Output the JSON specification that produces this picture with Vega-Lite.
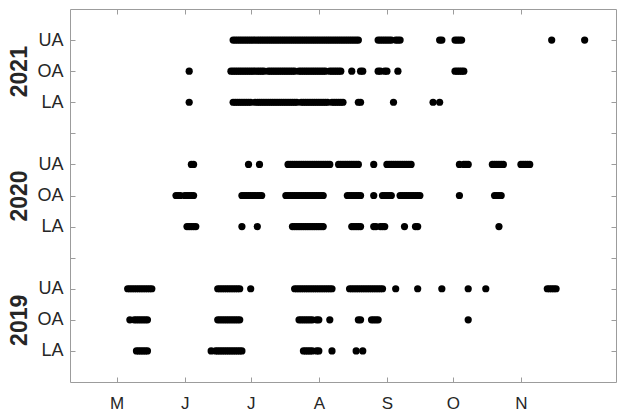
{
"$schema": "https://vega.github.io/schema/vega-lite/v6.json",
"width": 546, "height": 373,
"autosize": {"type": "none"},
"padding": {"left": 70, "top": 9, "right": 1, "bottom": 30},
"background": "white",
"config": {
 "view": {"stroke": "#9c9c9c", "strokeWidth": 1},
 "axis": {"labelFont": "Liberation Sans", "labelColor": "#262626", "tickColor": "#9c9c9c", "domain": false, "grid": false, "title": null}
},
"data": {"values": [
{"row":"2021 UA","date":"2021-06-23"},{"row":"2021 UA","date":"2021-06-24"},{"row":"2021 UA","date":"2021-06-25"},{"row":"2021 UA","date":"2021-06-26"},{"row":"2021 UA","date":"2021-06-27"},{"row":"2021 UA","date":"2021-06-28"},{"row":"2021 UA","date":"2021-06-29"},{"row":"2021 UA","date":"2021-06-30"},
{"row":"2021 UA","date":"2021-07-01"},{"row":"2021 UA","date":"2021-07-02"},{"row":"2021 UA","date":"2021-07-03"},{"row":"2021 UA","date":"2021-07-04"},{"row":"2021 UA","date":"2021-07-05"},{"row":"2021 UA","date":"2021-07-06"},{"row":"2021 UA","date":"2021-07-07"},{"row":"2021 UA","date":"2021-07-08"},{"row":"2021 UA","date":"2021-07-09"},{"row":"2021 UA","date":"2021-07-10"},{"row":"2021 UA","date":"2021-07-11"},{"row":"2021 UA","date":"2021-07-12"},{"row":"2021 UA","date":"2021-07-13"},{"row":"2021 UA","date":"2021-07-14"},{"row":"2021 UA","date":"2021-07-15"},{"row":"2021 UA","date":"2021-07-16"},{"row":"2021 UA","date":"2021-07-17"},{"row":"2021 UA","date":"2021-07-18"},{"row":"2021 UA","date":"2021-07-19"},{"row":"2021 UA","date":"2021-07-20"},{"row":"2021 UA","date":"2021-07-21"},{"row":"2021 UA","date":"2021-07-22"},{"row":"2021 UA","date":"2021-07-23"},{"row":"2021 UA","date":"2021-07-24"},{"row":"2021 UA","date":"2021-07-25"},{"row":"2021 UA","date":"2021-07-26"},{"row":"2021 UA","date":"2021-07-27"},{"row":"2021 UA","date":"2021-07-28"},{"row":"2021 UA","date":"2021-07-29"},{"row":"2021 UA","date":"2021-07-30"},{"row":"2021 UA","date":"2021-07-31"},
{"row":"2021 UA","date":"2021-08-01"},{"row":"2021 UA","date":"2021-08-02"},{"row":"2021 UA","date":"2021-08-03"},{"row":"2021 UA","date":"2021-08-04"},{"row":"2021 UA","date":"2021-08-05"},{"row":"2021 UA","date":"2021-08-06"},{"row":"2021 UA","date":"2021-08-07"},{"row":"2021 UA","date":"2021-08-08"},{"row":"2021 UA","date":"2021-08-09"},{"row":"2021 UA","date":"2021-08-10"},{"row":"2021 UA","date":"2021-08-11"},{"row":"2021 UA","date":"2021-08-12"},{"row":"2021 UA","date":"2021-08-13"},{"row":"2021 UA","date":"2021-08-14"},{"row":"2021 UA","date":"2021-08-15"},{"row":"2021 UA","date":"2021-08-16"},{"row":"2021 UA","date":"2021-08-17"},{"row":"2021 UA","date":"2021-08-18"},{"row":"2021 UA","date":"2021-08-19"},
{"row":"2021 UA","date":"2021-08-28"},{"row":"2021 UA","date":"2021-08-29"},{"row":"2021 UA","date":"2021-08-30"},{"row":"2021 UA","date":"2021-08-31"},{"row":"2021 UA","date":"2021-09-01"},{"row":"2021 UA","date":"2021-09-02"},{"row":"2021 UA","date":"2021-09-03"},{"row":"2021 UA","date":"2021-09-05"},{"row":"2021 UA","date":"2021-09-06"},{"row":"2021 UA","date":"2021-09-07"},{"row":"2021 UA","date":"2021-09-25"},{"row":"2021 UA","date":"2021-09-26"},{"row":"2021 UA","date":"2021-10-02"},{"row":"2021 UA","date":"2021-10-03"},{"row":"2021 UA","date":"2021-10-04"},{"row":"2021 UA","date":"2021-10-05"},{"row":"2021 UA","date":"2021-11-15"},{"row":"2021 UA","date":"2021-11-30"},

{"row":"2021 OA","date":"2021-06-03"},
{"row":"2021 OA","date":"2021-06-22"},{"row":"2021 OA","date":"2021-06-23"},{"row":"2021 OA","date":"2021-06-24"},{"row":"2021 OA","date":"2021-06-25"},{"row":"2021 OA","date":"2021-06-26"},{"row":"2021 OA","date":"2021-06-27"},{"row":"2021 OA","date":"2021-06-28"},{"row":"2021 OA","date":"2021-06-29"},{"row":"2021 OA","date":"2021-06-30"},
{"row":"2021 OA","date":"2021-07-01"},{"row":"2021 OA","date":"2021-07-02"},{"row":"2021 OA","date":"2021-07-03"},{"row":"2021 OA","date":"2021-07-04"},{"row":"2021 OA","date":"2021-07-05"},{"row":"2021 OA","date":"2021-07-06"},{"row":"2021 OA","date":"2021-07-07"},
{"row":"2021 OA","date":"2021-07-09"},{"row":"2021 OA","date":"2021-07-10"},{"row":"2021 OA","date":"2021-07-11"},{"row":"2021 OA","date":"2021-07-12"},{"row":"2021 OA","date":"2021-07-13"},{"row":"2021 OA","date":"2021-07-14"},{"row":"2021 OA","date":"2021-07-15"},{"row":"2021 OA","date":"2021-07-16"},{"row":"2021 OA","date":"2021-07-17"},{"row":"2021 OA","date":"2021-07-18"},{"row":"2021 OA","date":"2021-07-19"},{"row":"2021 OA","date":"2021-07-20"},{"row":"2021 OA","date":"2021-07-21"},
{"row":"2021 OA","date":"2021-07-23"},{"row":"2021 OA","date":"2021-07-24"},{"row":"2021 OA","date":"2021-07-25"},{"row":"2021 OA","date":"2021-07-26"},{"row":"2021 OA","date":"2021-07-27"},{"row":"2021 OA","date":"2021-07-28"},{"row":"2021 OA","date":"2021-07-29"},{"row":"2021 OA","date":"2021-07-30"},{"row":"2021 OA","date":"2021-07-31"},
{"row":"2021 OA","date":"2021-08-01"},{"row":"2021 OA","date":"2021-08-02"},{"row":"2021 OA","date":"2021-08-03"},{"row":"2021 OA","date":"2021-08-04"},
{"row":"2021 OA","date":"2021-08-06"},{"row":"2021 OA","date":"2021-08-07"},{"row":"2021 OA","date":"2021-08-08"},{"row":"2021 OA","date":"2021-08-09"},{"row":"2021 OA","date":"2021-08-10"},{"row":"2021 OA","date":"2021-08-11"},
{"row":"2021 OA","date":"2021-08-16"},{"row":"2021 OA","date":"2021-08-20"},{"row":"2021 OA","date":"2021-08-21"},{"row":"2021 OA","date":"2021-08-28"},{"row":"2021 OA","date":"2021-08-29"},{"row":"2021 OA","date":"2021-08-31"},{"row":"2021 OA","date":"2021-09-01"},{"row":"2021 OA","date":"2021-09-06"},
{"row":"2021 OA","date":"2021-10-02"},{"row":"2021 OA","date":"2021-10-03"},{"row":"2021 OA","date":"2021-10-04"},{"row":"2021 OA","date":"2021-10-05"},{"row":"2021 OA","date":"2021-10-06"},

{"row":"2021 LA","date":"2021-06-03"},
{"row":"2021 LA","date":"2021-06-23"},{"row":"2021 LA","date":"2021-06-24"},{"row":"2021 LA","date":"2021-06-25"},{"row":"2021 LA","date":"2021-06-26"},{"row":"2021 LA","date":"2021-06-27"},{"row":"2021 LA","date":"2021-06-28"},{"row":"2021 LA","date":"2021-06-29"},{"row":"2021 LA","date":"2021-06-30"},{"row":"2021 LA","date":"2021-07-01"},
{"row":"2021 LA","date":"2021-07-03"},{"row":"2021 LA","date":"2021-07-04"},{"row":"2021 LA","date":"2021-07-05"},{"row":"2021 LA","date":"2021-07-06"},{"row":"2021 LA","date":"2021-07-07"},{"row":"2021 LA","date":"2021-07-08"},{"row":"2021 LA","date":"2021-07-09"},{"row":"2021 LA","date":"2021-07-10"},{"row":"2021 LA","date":"2021-07-11"},{"row":"2021 LA","date":"2021-07-12"},{"row":"2021 LA","date":"2021-07-13"},{"row":"2021 LA","date":"2021-07-14"},{"row":"2021 LA","date":"2021-07-15"},{"row":"2021 LA","date":"2021-07-16"},{"row":"2021 LA","date":"2021-07-17"},{"row":"2021 LA","date":"2021-07-18"},{"row":"2021 LA","date":"2021-07-19"},{"row":"2021 LA","date":"2021-07-20"},{"row":"2021 LA","date":"2021-07-21"},{"row":"2021 LA","date":"2021-07-22"},
{"row":"2021 LA","date":"2021-07-24"},{"row":"2021 LA","date":"2021-07-25"},{"row":"2021 LA","date":"2021-07-26"},{"row":"2021 LA","date":"2021-07-27"},{"row":"2021 LA","date":"2021-07-28"},{"row":"2021 LA","date":"2021-07-29"},{"row":"2021 LA","date":"2021-07-30"},{"row":"2021 LA","date":"2021-07-31"},
{"row":"2021 LA","date":"2021-08-01"},{"row":"2021 LA","date":"2021-08-02"},{"row":"2021 LA","date":"2021-08-03"},{"row":"2021 LA","date":"2021-08-04"},{"row":"2021 LA","date":"2021-08-05"},
{"row":"2021 LA","date":"2021-08-07"},{"row":"2021 LA","date":"2021-08-08"},{"row":"2021 LA","date":"2021-08-09"},{"row":"2021 LA","date":"2021-08-10"},{"row":"2021 LA","date":"2021-08-11"},{"row":"2021 LA","date":"2021-08-12"},
{"row":"2021 LA","date":"2021-08-19"},{"row":"2021 LA","date":"2021-08-20"},{"row":"2021 LA","date":"2021-09-04"},{"row":"2021 LA","date":"2021-09-22"},{"row":"2021 LA","date":"2021-09-25"},

{"row":"2020 UA","date":"2020-06-04"},{"row":"2020 UA","date":"2020-06-05"},{"row":"2020 UA","date":"2020-06-30"},{"row":"2020 UA","date":"2020-07-05"},
{"row":"2020 UA","date":"2020-07-18"},{"row":"2020 UA","date":"2020-07-19"},{"row":"2020 UA","date":"2020-07-20"},{"row":"2020 UA","date":"2020-07-21"},{"row":"2020 UA","date":"2020-07-22"},{"row":"2020 UA","date":"2020-07-23"},{"row":"2020 UA","date":"2020-07-24"},{"row":"2020 UA","date":"2020-07-25"},{"row":"2020 UA","date":"2020-07-26"},{"row":"2020 UA","date":"2020-07-27"},{"row":"2020 UA","date":"2020-07-28"},{"row":"2020 UA","date":"2020-07-29"},{"row":"2020 UA","date":"2020-07-30"},{"row":"2020 UA","date":"2020-07-31"},
{"row":"2020 UA","date":"2020-08-01"},{"row":"2020 UA","date":"2020-08-02"},{"row":"2020 UA","date":"2020-08-03"},{"row":"2020 UA","date":"2020-08-04"},{"row":"2020 UA","date":"2020-08-05"},{"row":"2020 UA","date":"2020-08-06"},
{"row":"2020 UA","date":"2020-08-10"},{"row":"2020 UA","date":"2020-08-11"},{"row":"2020 UA","date":"2020-08-12"},{"row":"2020 UA","date":"2020-08-13"},{"row":"2020 UA","date":"2020-08-14"},{"row":"2020 UA","date":"2020-08-15"},{"row":"2020 UA","date":"2020-08-16"},{"row":"2020 UA","date":"2020-08-17"},{"row":"2020 UA","date":"2020-08-18"},{"row":"2020 UA","date":"2020-08-19"},
{"row":"2020 UA","date":"2020-08-26"},
{"row":"2020 UA","date":"2020-09-01"},{"row":"2020 UA","date":"2020-09-02"},{"row":"2020 UA","date":"2020-09-03"},{"row":"2020 UA","date":"2020-09-04"},{"row":"2020 UA","date":"2020-09-05"},{"row":"2020 UA","date":"2020-09-06"},{"row":"2020 UA","date":"2020-09-07"},{"row":"2020 UA","date":"2020-09-08"},{"row":"2020 UA","date":"2020-09-09"},{"row":"2020 UA","date":"2020-09-10"},{"row":"2020 UA","date":"2020-09-11"},{"row":"2020 UA","date":"2020-09-12"},
{"row":"2020 UA","date":"2020-10-04"},{"row":"2020 UA","date":"2020-10-06"},{"row":"2020 UA","date":"2020-10-07"},{"row":"2020 UA","date":"2020-10-08"},
{"row":"2020 UA","date":"2020-10-19"},{"row":"2020 UA","date":"2020-10-20"},{"row":"2020 UA","date":"2020-10-21"},{"row":"2020 UA","date":"2020-10-22"},{"row":"2020 UA","date":"2020-10-23"},{"row":"2020 UA","date":"2020-10-24"},
{"row":"2020 UA","date":"2020-11-01"},{"row":"2020 UA","date":"2020-11-02"},{"row":"2020 UA","date":"2020-11-03"},{"row":"2020 UA","date":"2020-11-04"},{"row":"2020 UA","date":"2020-11-05"},

{"row":"2020 OA","date":"2020-05-28"},{"row":"2020 OA","date":"2020-05-29"},{"row":"2020 OA","date":"2020-05-30"},{"row":"2020 OA","date":"2020-06-01"},{"row":"2020 OA","date":"2020-06-02"},{"row":"2020 OA","date":"2020-06-03"},{"row":"2020 OA","date":"2020-06-04"},{"row":"2020 OA","date":"2020-06-05"},
{"row":"2020 OA","date":"2020-06-27"},{"row":"2020 OA","date":"2020-06-28"},{"row":"2020 OA","date":"2020-06-29"},{"row":"2020 OA","date":"2020-06-30"},{"row":"2020 OA","date":"2020-07-01"},{"row":"2020 OA","date":"2020-07-02"},{"row":"2020 OA","date":"2020-07-03"},{"row":"2020 OA","date":"2020-07-04"},{"row":"2020 OA","date":"2020-07-05"},{"row":"2020 OA","date":"2020-07-06"},
{"row":"2020 OA","date":"2020-07-17"},{"row":"2020 OA","date":"2020-07-18"},{"row":"2020 OA","date":"2020-07-19"},{"row":"2020 OA","date":"2020-07-20"},{"row":"2020 OA","date":"2020-07-21"},{"row":"2020 OA","date":"2020-07-22"},{"row":"2020 OA","date":"2020-07-23"},{"row":"2020 OA","date":"2020-07-24"},{"row":"2020 OA","date":"2020-07-25"},{"row":"2020 OA","date":"2020-07-26"},{"row":"2020 OA","date":"2020-07-27"},{"row":"2020 OA","date":"2020-07-28"},{"row":"2020 OA","date":"2020-07-29"},{"row":"2020 OA","date":"2020-07-30"},{"row":"2020 OA","date":"2020-07-31"},{"row":"2020 OA","date":"2020-08-01"},{"row":"2020 OA","date":"2020-08-02"},{"row":"2020 OA","date":"2020-08-03"},
{"row":"2020 OA","date":"2020-08-14"},{"row":"2020 OA","date":"2020-08-15"},{"row":"2020 OA","date":"2020-08-16"},{"row":"2020 OA","date":"2020-08-17"},{"row":"2020 OA","date":"2020-08-18"},{"row":"2020 OA","date":"2020-08-19"},{"row":"2020 OA","date":"2020-08-20"},
{"row":"2020 OA","date":"2020-08-26"},{"row":"2020 OA","date":"2020-08-30"},{"row":"2020 OA","date":"2020-08-31"},{"row":"2020 OA","date":"2020-09-01"},{"row":"2020 OA","date":"2020-09-02"},{"row":"2020 OA","date":"2020-09-03"},
{"row":"2020 OA","date":"2020-09-07"},{"row":"2020 OA","date":"2020-09-08"},{"row":"2020 OA","date":"2020-09-09"},{"row":"2020 OA","date":"2020-09-10"},{"row":"2020 OA","date":"2020-09-11"},{"row":"2020 OA","date":"2020-09-12"},{"row":"2020 OA","date":"2020-09-13"},{"row":"2020 OA","date":"2020-09-14"},{"row":"2020 OA","date":"2020-09-15"},{"row":"2020 OA","date":"2020-09-16"},
{"row":"2020 OA","date":"2020-10-04"},{"row":"2020 OA","date":"2020-10-20"},{"row":"2020 OA","date":"2020-10-21"},{"row":"2020 OA","date":"2020-10-22"},{"row":"2020 OA","date":"2020-10-23"},

{"row":"2020 LA","date":"2020-06-02"},{"row":"2020 LA","date":"2020-06-03"},{"row":"2020 LA","date":"2020-06-04"},{"row":"2020 LA","date":"2020-06-05"},{"row":"2020 LA","date":"2020-06-06"},{"row":"2020 LA","date":"2020-06-27"},{"row":"2020 LA","date":"2020-07-04"},
{"row":"2020 LA","date":"2020-07-20"},{"row":"2020 LA","date":"2020-07-21"},{"row":"2020 LA","date":"2020-07-22"},{"row":"2020 LA","date":"2020-07-23"},{"row":"2020 LA","date":"2020-07-24"},{"row":"2020 LA","date":"2020-07-25"},{"row":"2020 LA","date":"2020-07-26"},{"row":"2020 LA","date":"2020-07-27"},{"row":"2020 LA","date":"2020-07-28"},{"row":"2020 LA","date":"2020-07-29"},{"row":"2020 LA","date":"2020-07-30"},{"row":"2020 LA","date":"2020-07-31"},{"row":"2020 LA","date":"2020-08-01"},{"row":"2020 LA","date":"2020-08-02"},{"row":"2020 LA","date":"2020-08-03"},
{"row":"2020 LA","date":"2020-08-16"},{"row":"2020 LA","date":"2020-08-17"},{"row":"2020 LA","date":"2020-08-18"},{"row":"2020 LA","date":"2020-08-19"},{"row":"2020 LA","date":"2020-08-20"},
{"row":"2020 LA","date":"2020-08-26"},{"row":"2020 LA","date":"2020-08-27"},{"row":"2020 LA","date":"2020-08-29"},{"row":"2020 LA","date":"2020-08-30"},{"row":"2020 LA","date":"2020-08-31"},
{"row":"2020 LA","date":"2020-09-09"},{"row":"2020 LA","date":"2020-09-14"},{"row":"2020 LA","date":"2020-09-15"},{"row":"2020 LA","date":"2020-10-22"},

{"row":"2019 UA","date":"2019-05-06"},{"row":"2019 UA","date":"2019-05-07"},{"row":"2019 UA","date":"2019-05-08"},{"row":"2019 UA","date":"2019-05-09"},{"row":"2019 UA","date":"2019-05-10"},{"row":"2019 UA","date":"2019-05-11"},{"row":"2019 UA","date":"2019-05-12"},{"row":"2019 UA","date":"2019-05-13"},{"row":"2019 UA","date":"2019-05-14"},{"row":"2019 UA","date":"2019-05-15"},{"row":"2019 UA","date":"2019-05-16"},{"row":"2019 UA","date":"2019-05-17"},
{"row":"2019 UA","date":"2019-06-16"},{"row":"2019 UA","date":"2019-06-17"},{"row":"2019 UA","date":"2019-06-18"},{"row":"2019 UA","date":"2019-06-19"},{"row":"2019 UA","date":"2019-06-20"},{"row":"2019 UA","date":"2019-06-21"},{"row":"2019 UA","date":"2019-06-22"},{"row":"2019 UA","date":"2019-06-23"},{"row":"2019 UA","date":"2019-06-24"},{"row":"2019 UA","date":"2019-06-25"},{"row":"2019 UA","date":"2019-06-26"},
{"row":"2019 UA","date":"2019-07-01"},
{"row":"2019 UA","date":"2019-07-21"},{"row":"2019 UA","date":"2019-07-22"},{"row":"2019 UA","date":"2019-07-23"},{"row":"2019 UA","date":"2019-07-24"},{"row":"2019 UA","date":"2019-07-25"},{"row":"2019 UA","date":"2019-07-26"},{"row":"2019 UA","date":"2019-07-27"},{"row":"2019 UA","date":"2019-07-28"},{"row":"2019 UA","date":"2019-07-29"},{"row":"2019 UA","date":"2019-07-30"},{"row":"2019 UA","date":"2019-07-31"},{"row":"2019 UA","date":"2019-08-01"},{"row":"2019 UA","date":"2019-08-02"},{"row":"2019 UA","date":"2019-08-03"},{"row":"2019 UA","date":"2019-08-04"},{"row":"2019 UA","date":"2019-08-05"},{"row":"2019 UA","date":"2019-08-06"},{"row":"2019 UA","date":"2019-08-07"},
{"row":"2019 UA","date":"2019-08-15"},{"row":"2019 UA","date":"2019-08-16"},{"row":"2019 UA","date":"2019-08-17"},{"row":"2019 UA","date":"2019-08-18"},{"row":"2019 UA","date":"2019-08-19"},{"row":"2019 UA","date":"2019-08-20"},{"row":"2019 UA","date":"2019-08-21"},{"row":"2019 UA","date":"2019-08-22"},{"row":"2019 UA","date":"2019-08-23"},{"row":"2019 UA","date":"2019-08-24"},{"row":"2019 UA","date":"2019-08-25"},{"row":"2019 UA","date":"2019-08-26"},{"row":"2019 UA","date":"2019-08-27"},{"row":"2019 UA","date":"2019-08-28"},{"row":"2019 UA","date":"2019-08-29"},{"row":"2019 UA","date":"2019-08-30"},
{"row":"2019 UA","date":"2019-09-05"},{"row":"2019 UA","date":"2019-09-15"},{"row":"2019 UA","date":"2019-09-26"},{"row":"2019 UA","date":"2019-10-08"},{"row":"2019 UA","date":"2019-10-16"},
{"row":"2019 UA","date":"2019-11-13"},{"row":"2019 UA","date":"2019-11-14"},{"row":"2019 UA","date":"2019-11-15"},{"row":"2019 UA","date":"2019-11-16"},{"row":"2019 UA","date":"2019-11-17"},

{"row":"2019 OA","date":"2019-05-07"},{"row":"2019 OA","date":"2019-05-09"},{"row":"2019 OA","date":"2019-05-10"},{"row":"2019 OA","date":"2019-05-11"},{"row":"2019 OA","date":"2019-05-12"},{"row":"2019 OA","date":"2019-05-13"},{"row":"2019 OA","date":"2019-05-14"},{"row":"2019 OA","date":"2019-05-15"},
{"row":"2019 OA","date":"2019-06-16"},{"row":"2019 OA","date":"2019-06-17"},{"row":"2019 OA","date":"2019-06-18"},{"row":"2019 OA","date":"2019-06-19"},{"row":"2019 OA","date":"2019-06-20"},{"row":"2019 OA","date":"2019-06-21"},{"row":"2019 OA","date":"2019-06-22"},{"row":"2019 OA","date":"2019-06-23"},{"row":"2019 OA","date":"2019-06-24"},{"row":"2019 OA","date":"2019-06-25"},{"row":"2019 OA","date":"2019-06-26"},
{"row":"2019 OA","date":"2019-07-23"},{"row":"2019 OA","date":"2019-07-24"},{"row":"2019 OA","date":"2019-07-25"},{"row":"2019 OA","date":"2019-07-26"},{"row":"2019 OA","date":"2019-07-27"},{"row":"2019 OA","date":"2019-07-28"},{"row":"2019 OA","date":"2019-07-29"},{"row":"2019 OA","date":"2019-07-31"},{"row":"2019 OA","date":"2019-08-01"},
{"row":"2019 OA","date":"2019-08-06"},{"row":"2019 OA","date":"2019-08-19"},{"row":"2019 OA","date":"2019-08-20"},{"row":"2019 OA","date":"2019-08-25"},{"row":"2019 OA","date":"2019-08-26"},{"row":"2019 OA","date":"2019-08-27"},{"row":"2019 OA","date":"2019-08-28"},{"row":"2019 OA","date":"2019-10-08"},

{"row":"2019 LA","date":"2019-05-10"},{"row":"2019 LA","date":"2019-05-11"},{"row":"2019 LA","date":"2019-05-12"},{"row":"2019 LA","date":"2019-05-13"},{"row":"2019 LA","date":"2019-05-14"},{"row":"2019 LA","date":"2019-05-15"},
{"row":"2019 LA","date":"2019-06-13"},{"row":"2019 LA","date":"2019-06-15"},{"row":"2019 LA","date":"2019-06-16"},{"row":"2019 LA","date":"2019-06-17"},{"row":"2019 LA","date":"2019-06-18"},{"row":"2019 LA","date":"2019-06-19"},{"row":"2019 LA","date":"2019-06-20"},{"row":"2019 LA","date":"2019-06-21"},{"row":"2019 LA","date":"2019-06-22"},{"row":"2019 LA","date":"2019-06-23"},{"row":"2019 LA","date":"2019-06-24"},{"row":"2019 LA","date":"2019-06-25"},{"row":"2019 LA","date":"2019-06-26"},{"row":"2019 LA","date":"2019-06-27"},
{"row":"2019 LA","date":"2019-07-25"},{"row":"2019 LA","date":"2019-07-26"},{"row":"2019 LA","date":"2019-07-27"},{"row":"2019 LA","date":"2019-07-28"},{"row":"2019 LA","date":"2019-07-29"},{"row":"2019 LA","date":"2019-07-31"},{"row":"2019 LA","date":"2019-08-01"},
{"row":"2019 LA","date":"2019-08-07"},{"row":"2019 LA","date":"2019-08-18"},{"row":"2019 LA","date":"2019-08-21"}
]},
"layer": [
 {
  "mark": {"type": "point", "filled": true, "shape": "circle", "size": 52, "opacity": 1, "color": "#000000", "strokeWidth": 0},
  "encoding": {
   "x": {"field": "date", "type": "temporal", "timeUnit": "utcmonthdate",
     "scale": {"domain": [1333994400000, 1355466600000]},
     "axis": {"orient": "bottom", "values": [1335830400000, 1338508800000, 1341100800000, 1343779200000, 1346457600000, 1349049600000, 1351728000000],
       "labelExpr": "substring(utcFormat(datum.value, '%B'), 0, 1)", "tickSize": -5, "labelPadding": 18, "labelFontSize": 17, "labelFlush": false, "labelOverlap": false, "title": null}},
   "y": {"field": "row", "type": "nominal",
     "scale": {"type": "point", "domain": ["2021 UA", "2021 OA", "2021 LA", "gapA", "2020 UA", "2020 OA", "2020 LA", "gapB", "2019 UA", "2019 OA", "2019 LA"], "padding": 1},
     "axis": {"orient": "left", "labelExpr": "indexof(datum.label, ' ') > 0 ? substring(datum.label, 5) : ''", "tickSize": -5, "labelPadding": 12, "labelFontSize": 18, "labelOverlap": false, "title": null}}
  }
 },
 {
  "mark": {"type": "point", "opacity": 0},
  "encoding": {
   "x": {"field": "date", "type": "temporal", "timeUnit": "utcmonthdate",
     "scale": {"domain": [1333994400000, 1355466600000]},
     "axis": {"orient": "top", "values": [1335830400000, 1338508800000, 1341100800000, 1343779200000, 1346457600000, 1349049600000, 1351728000000], "labels": false, "tickSize": -5, "title": null}},
   "y": {"field": "row", "type": "nominal",
     "scale": {"type": "point", "domain": ["2021 UA", "2021 OA", "2021 LA", "gapA", "2020 UA", "2020 OA", "2020 LA", "gapB", "2019 UA", "2019 OA", "2019 LA"], "padding": 1},
     "axis": {"orient": "left", "values": ["2021 OA", "2020 OA", "2019 OA"], "labelExpr": "substring(datum.label, 0, 4)", "ticks": false, "offset": 44, "labelPadding": 0, "labelAngle": -90, "labelAlign": "center", "labelBaseline": "alphabetic", "labelFontSize": 23, "labelFontWeight": "bold", "labelOverlap": false, "title": null}}
  }
 },
 {
  "mark": {"type": "point", "opacity": 0},
  "encoding": {
   "x": {"field": "date", "type": "temporal", "timeUnit": "utcmonthdate",
     "scale": {"domain": [1333994400000, 1355466600000]}, "axis": null},
   "y": {"field": "row", "type": "nominal",
     "scale": {"type": "point", "domain": ["2021 UA", "2021 OA", "2021 LA", "gapA", "2020 UA", "2020 OA", "2020 LA", "gapB", "2019 UA", "2019 OA", "2019 LA"], "padding": 1},
     "axis": {"orient": "right", "labels": false, "tickSize": -5, "title": null}}
  }
 }
],
"resolve": {"scale": {"x": "independent", "y": "independent"}}
}
